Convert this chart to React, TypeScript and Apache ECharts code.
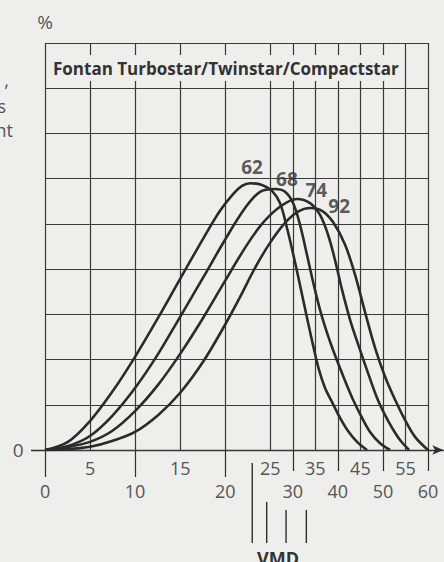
import React, { useEffect, useRef } from 'react';
import * as echarts from 'echarts';

// particle size in µm (x) and share in grid rows (y)
const curveNames = ['62', '68', '74', '92'];
const curve62 = [[0,0],[2.55,0.18],[4.99,0.64],[7.44,1.28],[9.99,2.06],[12.54,2.92],[14.98,3.78],[17.54,4.67],[19.42,5.29],[20.87,5.66],[21.86,5.84],[22.75,5.9],[24.08,5.86],[25.38,5.73],[27.15,5.46],[28.71,4.91],[30.27,4.25],[31.83,3.54],[33.16,2.92],[34.49,2.32],[35.82,1.77],[37.15,1.37],[38.71,1.06],[40.48,0.71],[42.26,0.42],[44.26,0.18],[46.47,0]];
const curve68 = [[0,0],[2.55,0.09],[4.99,0.31],[7.44,0.75],[9.99,1.37],[12.54,2.12],[14.98,2.94],[17.54,3.81],[19.98,4.65],[22.2,5.35],[23.86,5.71],[26.04,5.77],[28.27,5.71],[30.05,5.46],[31.6,4.98],[33.16,4.31],[34.49,3.72],[36.04,3.1],[37.6,2.59],[38.93,2.21],[40.48,1.81],[42.04,1.42],[43.37,1.11],[45.37,0.71],[47.14,0.4],[49.37,0.15],[51.59,0]];
const curve74 = [[0,0],[2.55,0.07],[4.99,0.18],[7.44,0.42],[9.99,0.86],[12.54,1.44],[14.98,2.12],[17.54,2.92],[19.98,3.74],[22.2,4.47],[24.08,5.0],[27.15,5.38],[30.94,5.55],[33.82,5.46],[36.04,5.2],[37.82,4.76],[39.37,4.2],[40.93,3.54],[42.71,2.88],[44.93,2.21],[46.7,1.7],[48.7,1.15],[50.48,0.77],[52.03,0.49],[53.8,0.22],[55.8,0]];
const curve92 = [[0,0],[2.55,0.02],[4.99,0.07],[7.44,0.2],[9.99,0.4],[12.54,0.77],[14.98,1.26],[17.54,1.95],[19.98,2.77],[21.64,3.38],[23.31,4.03],[24.97,4.58],[28.27,5.02],[31.16,5.27],[33.82,5.35],[36.48,5.29],[38.93,5.04],[41.6,4.54],[43.82,3.87],[46.03,3.05],[48.25,2.26],[50.48,1.62],[52.7,1.11],[54.92,0.66],[57.13,0.29],[60,0]];
const curves = [curve62, curve68, curve74, curve92];
const curveLabelPos = [[22.97,6.26],[28.7,6.0],[35.2,5.75],[40.3,5.4]];
const vmdValues = [23, 24.6, 28.5, 33];
const vmdTopPx = [463, 502, 510, 510];

const topRowTicks = [5, 15, 25, 35, 45, 55];
const bottomRowTicks = [0, 10, 20, 30, 40, 50, 60];
const longTicks = [0, 10, 20];
const shortTicks = [30, 40, 50, 60];
const gridX = [0, 5, 10, 15, 20, 25, 30, 35, 40, 45, 50, 55, 60];
const gridY = [0, 1, 2, 3, 4, 5, 6, 7, 8, 9];
const titleText = 'Fontan Turbostar/Twinstar/Compactstar';

// broken scale: 0–25 full width, 25–60 half width
const toAxis = (x: number) => (x <= 25 ? x : 25 + (x - 25) / 2);
const fromAxis = (t: number) => (t <= 25 ? t : 25 + 2 * (t - 25));

const BG = '#eeeeec';
const INK = '#2e2e2e';
const LIGHT = '#555555';
const FONT = '"Open Sans", "Noto Sans", sans-serif';

export default function App() {
  const ref = useRef<HTMLDivElement>(null);
  useEffect(() => {
    if (!ref.current) return;
    const chart = echarts.init(ref.current, undefined, { renderer: 'svg' });
    const xMin = -1.5, xMax = 44.2;
    const gridLines: any[] = [];
    gridX.forEach((x) => gridLines.push([{ coord: [toAxis(x), 0] }, { coord: [toAxis(x), 9] }]));
    gridY.forEach((y) => gridLines.push([{ coord: [0, y] }, { coord: [toAxis(60), y] }]));
    const fmt = (v: number) => String(Math.round(fromAxis(v)));
    chart.setOption({
      animation: false,
      backgroundColor: BG,
      grid: { left: 31.5, right: 0.7, top: 43, bottom: 112, containLabel: false },
      xAxis: [
        {
          type: 'value', min: xMin, max: xMax, position: 'bottom',
          splitLine: { show: false },
          axisLine: { show: true, symbol: ['none', 'arrow'], symbolSize: [7, 11], lineStyle: { color: INK, width: 1.3 } },
          axisTick: { show: true, customValues: longTicks.map(toAxis), length: 27, lineStyle: { color: INK, width: 1.2 } },
          axisLabel: { customValues: topRowTicks.map(toAxis), formatter: fmt, margin: 9, fontSize: 18, color: LIGHT, fontFamily: FONT },
        },
        {
          type: 'value', min: xMin, max: xMax, position: 'bottom',
          splitLine: { show: false },
          axisLine: { show: false },
          axisTick: { show: true, customValues: shortTicks.map(toAxis), length: 21, lineStyle: { color: INK, width: 1.2 } },
          axisLabel: { customValues: bottomRowTicks.map(toAxis), formatter: fmt, margin: 32, fontSize: 18, color: LIGHT, fontFamily: FONT },
        },
      ],
      yAxis: {
        type: 'value', min: 0, max: 9, interval: 1,
        axisLine: { show: false }, axisTick: { show: false }, splitLine: { show: false },
        axisLabel: { formatter: (v: number) => (v === 0 ? '0' : ''), margin: 8, fontSize: 19, color: LIGHT, fontFamily: FONT },
      },
      series: [
        {
          type: 'line', data: [], silent: true,
          markLine: {
            silent: true, symbol: ['none', 'none'], label: { show: false },
            lineStyle: { color: '#3a3a3a', width: 1.2, type: 'solid' },
            data: gridLines,
          },
        },
        ...curves.map((c, i) => ({
          type: 'line', name: curveNames[i], smooth: 0.35, showSymbol: false, silent: true,
          lineStyle: { color: '#2b2b2b', width: 2.6 },
          data: c.map(([x, y]) => [toAxis(x), y]),
          z: 5,
        })),
        {
          type: 'scatter', symbolSize: 0, silent: true, z: 6,
          data: curveLabelPos.map(([x, y], i) => ({ value: [toAxis(x), y], name: curveNames[i] })),
          label: { show: true, position: 'inside', formatter: (p: any) => p.name, fontSize: 19, fontWeight: 'bold', color: '#333', fontFamily: FONT },
        },
      ],
    });
    const g: any[] = [];
    // title band: hide grid lines behind the title
    g.push({ type: 'rect', shape: { x: 50, y: 55, width: 352, height: 26 }, style: { fill: BG }, z: 50 });
    g.push({ type: 'text', x: 53, y: 68, z: 51, style: { text: titleText, font: `bold 17px ${FONT}`, fill: '#333', textVerticalAlign: 'middle' } });
    g.push({ type: 'text', x: 45, y: 22, z: 51, style: { text: '%', font: `19px ${FONT}`, fill: LIGHT, textAlign: 'center', textVerticalAlign: 'middle' } });
    // VMD markers
    vmdValues.forEach((v, i) => {
      const p = chart.convertToPixel({ gridIndex: 0 }, [toAxis(v), 0]) as number[];
      g.push({ type: 'line', z: 51, shape: { x1: p[0], y1: vmdTopPx[i], x2: p[0], y2: 543 }, style: { stroke: INK, lineWidth: 1.4 } });
    });
    g.push({ type: 'text', x: 278, y: 549, z: 51, style: { text: 'VMD', font: `bold 18px ${FONT}`, fill: '#333', textAlign: 'center', textVerticalAlign: 'top' } });
    // cut-off paragraph fragments at left
    g.push({ type: 'text', x: 9, y: 80, z: 51, style: { text: ',', font: `18px ${FONT}`, fill: LIGHT, textAlign: 'right', textVerticalAlign: 'middle' } });
    g.push({ type: 'text', x: 6, y: 106, z: 51, style: { text: 's', font: `18px ${FONT}`, fill: LIGHT, textAlign: 'right', textVerticalAlign: 'middle' } });
    g.push({ type: 'text', x: 13, y: 130, z: 51, style: { text: 'nt', font: `18px ${FONT}`, fill: LIGHT, textAlign: 'right', textVerticalAlign: 'middle' } });
    chart.setOption({ graphic: g });
    return () => chart.dispose();
  }, []);
  return <div ref={ref} style={{ position: 'fixed', left: 0, top: 0, width: 444, height: 562 }} />;
}
